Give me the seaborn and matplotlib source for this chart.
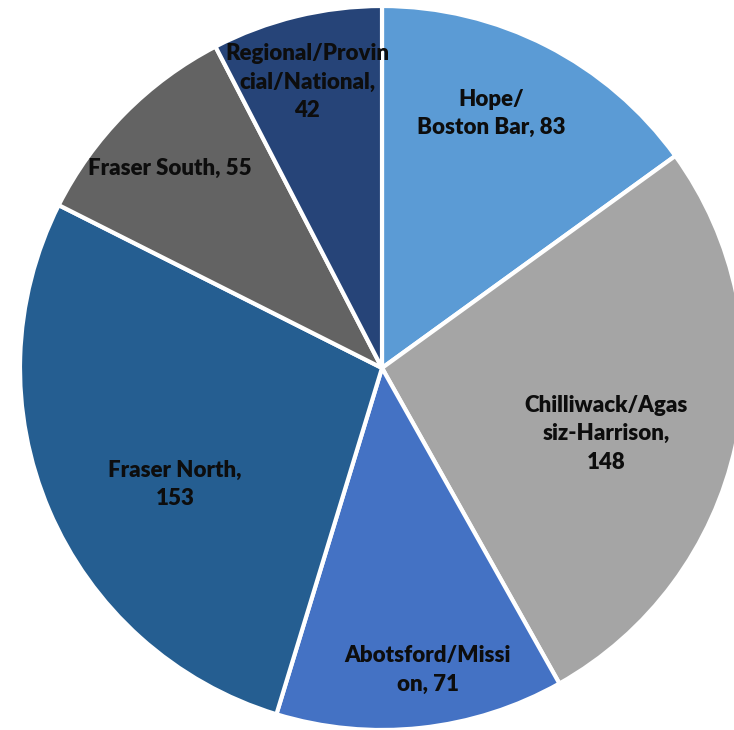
import matplotlib
matplotlib.use("Agg")
import matplotlib.pyplot as plt
import seaborn as sns

# Data
regions = ["Hope/\nBoston Bar", "Chilliwack/Agas\nsiz-Harrison", "Abotsford/Missi\non",
           "Fraser North", "Fraser South", "Regional/Provin\ncial/National"]
counts = [83, 148, 71, 153, 55, 42]
colors = ["#5B9BD5", "#A5A5A5", "#4472C4", "#255E91", "#636363", "#264478"]

# Separator between each name and its value (line break or same line)
separators = [", ", ",\n", ", ", ",\n", ", ", ",\n"]

# Label centres, in units of pie radius relative to the pie centre
label_offsets = [(0.301, 0.704), (0.619, -0.182), (0.127, -0.834),
                 (-0.572, -0.323), (-0.586, 0.552), (-0.207, 0.790)]

sns.set_theme(style="white")
plt.rcParams["font.family"] = ["Lato", "DejaVu Sans"]

fig = plt.figure(figsize=(7.34, 7.30), dpi=100)
ax = fig.add_axes([0, 0, 1, 1])

ax.pie(counts, colors=colors, startangle=90, counterclock=False,
       radius=1.0, center=(0, 0),
       wedgeprops=dict(edgecolor="white", linewidth=3.0))

for name, sep, value, (lx, ly) in zip(regions, separators, counts, label_offsets):
    ax.text(lx, ly, f"{name}{sep}{value}", ha="center", va="center",
            fontsize=16, fontweight="heavy", color="#0d0d0d", linespacing=1.42)

# Place the pie so its centre sits left of middle and the right edge runs off
px = 362.0
ax.set_xlim(-382 / px, (734 - 382) / px)
ax.set_ylim(-(730 - 368) / px, 368 / px)
ax.set_aspect("auto")
ax.axis("off")

fig.savefig("out.png", dpi=100, facecolor="white")
